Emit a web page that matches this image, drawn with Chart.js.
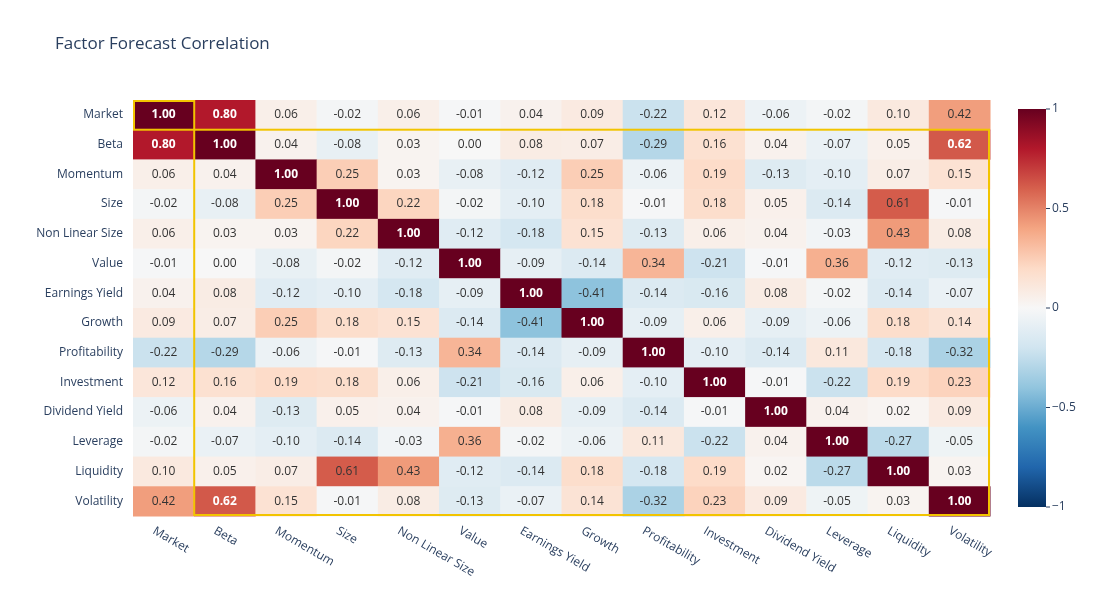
<!DOCTYPE html>
<html><head><meta charset="utf-8">
<script src="https://cdn.jsdelivr.net/npm/chart.js@4"></script>
<style>body{margin:0;background:#fff}</style>
</head><body>
<canvas id="c" width="1100" height="616"></canvas>
<script>
const factors = ["Market","Beta","Momentum","Size","Non Linear Size","Value","Earnings Yield","Growth","Profitability","Investment","Dividend Yield","Leverage","Liquidity","Volatility"];
const correlations = [
[1.00,0.80,0.06,-0.02,0.06,-0.01,0.04,0.09,-0.22,0.12,-0.06,-0.02,0.10,0.42],
[0.80,1.00,0.04,-0.08,0.03,0.00,0.08,0.07,-0.29,0.16,0.04,-0.07,0.05,0.62],
[0.06,0.04,1.00,0.25,0.03,-0.08,-0.12,0.25,-0.06,0.19,-0.13,-0.10,0.07,0.15],
[-0.02,-0.08,0.25,1.00,0.22,-0.02,-0.10,0.18,-0.01,0.18,0.05,-0.14,0.61,-0.01],
[0.06,0.03,0.03,0.22,1.00,-0.12,-0.18,0.15,-0.13,0.06,0.04,-0.03,0.43,0.08],
[-0.01,0.00,-0.08,-0.02,-0.12,1.00,-0.09,-0.14,0.34,-0.21,-0.01,0.36,-0.12,-0.13],
[0.04,0.08,-0.12,-0.10,-0.18,-0.09,1.00,-0.41,-0.14,-0.16,0.08,-0.02,-0.14,-0.07],
[0.09,0.07,0.25,0.18,0.15,-0.14,-0.41,1.00,-0.09,0.06,-0.09,-0.06,0.18,0.14],
[-0.22,-0.29,-0.06,-0.01,-0.13,0.34,-0.14,-0.09,1.00,-0.10,-0.14,0.11,-0.18,-0.32],
[0.12,0.16,0.19,0.18,0.06,-0.21,-0.16,0.06,-0.10,1.00,-0.01,-0.22,0.19,0.23],
[-0.06,0.04,-0.13,0.05,0.04,-0.01,0.08,-0.09,-0.14,-0.01,1.00,0.04,0.02,0.09],
[-0.02,-0.07,-0.10,-0.14,-0.03,0.36,-0.02,-0.06,0.11,-0.22,0.04,1.00,-0.27,-0.05],
[0.10,0.05,0.07,0.61,0.43,-0.12,-0.14,0.18,-0.18,0.19,0.02,-0.27,1.00,0.03],
[0.42,0.62,0.15,-0.01,0.08,-0.13,-0.07,0.14,-0.32,0.23,0.09,-0.05,0.03,1.00]];
const colorbarTicks = [1,0.5,0,-0.5,-1];
const colorbarLabels = ["1","0.5","0","−0.5","−1"];
const title = "Factor Forecast Correlation";

const stops = [[5,48,97],[33,102,172],[67,147,195],[146,197,222],[209,229,240],[247,247,247],[253,219,199],[244,165,130],[214,96,77],[178,24,43],[103,0,31]];
function color(v){
  const t = (Math.max(-1,Math.min(1,v))+1)/2*10;
  const i = Math.min(9,Math.floor(t)), f = t-i;
  const a = stops[i], b = stops[i+1];
  return `rgb(${a.map((c,k)=>Math.round(c+(b[k]-c)*f)).join(',')})`;
}
const FONT = '"Open Sans", sans-serif';
const TXT = '#2a3f5f';

const heat = {
  id:'heat',
  beforeDatasetsDraw(chart){
    const {ctx, scales:{x,y}} = chart;
    const cw = x.getPixelForValue(1)-x.getPixelForValue(0);
    const ch = y.getPixelForValue(1)-y.getPixelForValue(0);
    ctx.save();
    correlations.forEach((row,r)=>row.forEach((v,c)=>{
      const cx = x.getPixelForValue(c), cy = y.getPixelForValue(r);
      ctx.fillStyle = color(v);
      ctx.fillRect(cx-cw/2, cy-ch/2, cw+0.5, ch+0.5);
    }));
    ctx.textAlign='center'; ctx.textBaseline='middle';
    correlations.forEach((row,r)=>row.forEach((v,c)=>{
      const cx = x.getPixelForValue(c), cy = y.getPixelForValue(r);
      const strong = Math.abs(v)>=0.62;
      ctx.fillStyle = strong ? '#fff' : '#333';
      ctx.font = (strong?'bold ':'')+'12px '+FONT;
      ctx.fillText(v.toFixed(2), cx, cy);
    }));
    // gold boxes
    ctx.strokeStyle='#f2c400'; ctx.lineWidth=2;
    const x0 = x.getPixelForValue(0)-cw/2, y0 = y.getPixelForValue(0)-ch/2;
    ctx.strokeRect(x0+1,y0+1,cw-1,ch-1);
    ctx.strokeRect(x0+cw, y0+ch, cw*13-1, ch*13-1);
    // x labels rotated
    ctx.fillStyle=TXT; ctx.font='12px '+FONT; ctx.textAlign='left'; ctx.textBaseline='middle';
    factors.forEach((f,i)=>{
      ctx.save();
      ctx.translate(x.getPixelForValue(i)-10, y.bottom+14);
      ctx.rotate(30*Math.PI/180);
      ctx.fillText(f,0,0);
      ctx.restore();
    });
    // title
    ctx.font='17px '+FONT; ctx.textAlign='left'; ctx.fillText(title,55,44);
    // colorbar
    const bx=1018,bw=28,btop=109,bbot=507;
    const g=ctx.createLinearGradient(0,bbot,0,btop);
    for(let k=0;k<=20;k++){g.addColorStop(k/20,color(-1+k/10));}
    ctx.fillStyle=g; ctx.fillRect(bx,btop,bw,bbot-btop);
    ctx.fillStyle=TXT; ctx.font='12px '+FONT; ctx.textAlign='left';
    colorbarTicks.forEach((t,i)=>{
      const py = bbot-(t+1)/2*(bbot-btop);
      ctx.fillRect(bx+bw,py-0.5,4,1);
      ctx.fillText(colorbarLabels[i],bx+bw+6,py);
    });
    ctx.restore();
  }
};

new Chart(document.getElementById('c'),{
  type:'bar',
  data:{labels:factors,datasets:[{data:[]}]},
  options:{
    responsive:false, animation:false,
    layout:{padding:{top:100,bottom:100,right:110,left:0}},
    plugins:{legend:{display:false},tooltip:{enabled:false}},
    scales:{
      x:{type:'category',labels:factors,offset:true,grid:{display:false},border:{display:false},ticks:{display:false},afterFit(s){s.height=0;}},
      y:{type:'category',labels:factors,offset:true,grid:{display:false},border:{display:false},
        ticks:{color:TXT,font:{family:FONT,size:12},padding:2},afterFit(s){s.width=133;}}
    }
  },
  plugins:[heat]
});
</script>
</body></html>
